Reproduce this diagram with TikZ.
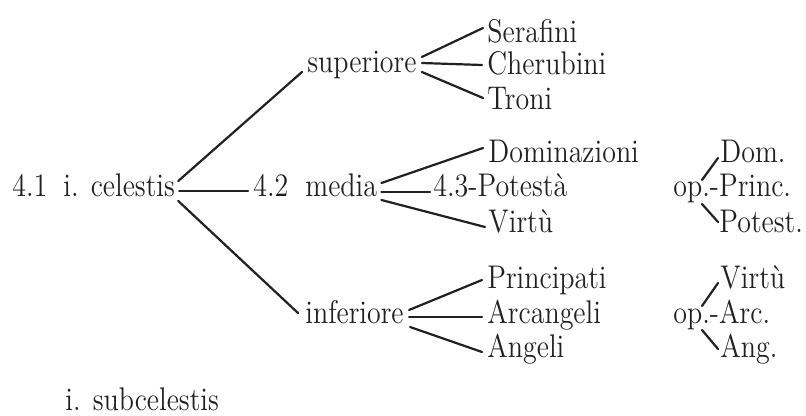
\documentclass[tikz,border=0pt]{standalone}
\usetikzlibrary{calc}
\definecolor{ink}{RGB}{34,32,32}
\newcommand{\stx}[1]{\scalebox{1}[1.17]{#1}}
\begin{document}
\begin{tikzpicture}[x=0.5pt,y=-0.5pt,
  lbl/.style={inner sep=0pt, anchor=base west, text=ink, font=\fontsize{14}{16}\selectfont},
  link/.style={draw=ink, line width=1.1pt, line cap=round}]
\useasboundingbox[fill=white] (0,0) rectangle (806,416);
% first column
\node[lbl] (n41) at (12,197) {\stx{4.1}};
\node[lbl] (cel) at (63,197) {\stx{i. celestis}};
\node[lbl] (sub) at (65,410) {\stx{i. subcelestis}};
% second column
\node[lbl] (sup) at (307,73) {\stx{superiore}};
\node[lbl] (n42) at (253,197) {\stx{4.2}};
\node[lbl] (med) at (305,197) {\stx{media}};
\node[lbl] (inf) at (305,323) {\stx{inferiore}};
% third column
\node[lbl] (ser) at (487,43) {\stx{Serafini}};
\node[lbl] (che) at (487,75) {\stx{Cherubini}};
\node[lbl] (tro) at (487,110) {\stx{Troni}};
\node[lbl] (dom) at (488,163) {\stx{Dominazioni}};
\node[lbl] (pot) at (433,197) {\stx{4.3-Potestà}};
\node[lbl] (vir) at (488,233) {\stx{Virtù}};
\node[lbl] (pri) at (487,288) {\stx{Principati}};
\node[lbl] (arc) at (487,323) {\stx{Arcangeli}};
\node[lbl] (ang) at (487,357) {\stx{Angeli}};
% fourth column
\node[lbl] (opa) at (673,197) {\stx{op.-Princ.}};
\node[lbl] (doma) at (720,163) {\stx{Dom.}};
\node[lbl] (pota) at (719,233) {\stx{Potest.}};
\node[lbl] (opb) at (673,323) {\stx{op.-Arc.}};
\node[lbl] (virb) at (720,288) {\stx{Virtù}};
\node[lbl] (angb) at (720,357) {\stx{Ang.}};
% connectors: celestis
\draw[link] ($(cel.base east)+(3,-16)$) -- ($(sup.base west)+(-5,-1)$);
\draw[link] ($(cel.base east)+(4,-6)$) -- ($(n42.base west)+(-5,-6)$);
\draw[link] ($(cel.base east)+(3,4)$) -- ($(inf.base west)+(-7,-10)$);
% superiore
\draw[link] ($(sup.base east)+(5,-16)$) -- ($(ser.base west)+(-4,-15)$);
\draw[link] ($(sup.base east)+(5,-10)$) -- ($(che.base west)+(-5,-10)$);
\draw[link] ($(sup.base east)+(5,-1)$) -- ($(tro.base west)+(-4,-12)$);
% media
\draw[link] ($(med.base east)+(4,-14)$) -- ($(dom.base west)+(-5,-15)$);
\draw[link] ($(med.base east)+(4,-5)$) -- ($(pot.base west)+(-3,-5)$);
\draw[link] ($(med.base east)+(4,3)$) -- ($(vir.base west)+(-3,-6)$);
% inferiore
\draw[link] ($(inf.base east)+(5,-13)$) -- ($(pri.base west)+(-5,-8)$);
\draw[link] ($(inf.base east)+(5,-6)$) -- ($(arc.base west)+(-5,-6)$);
\draw[link] ($(inf.base east)+(6,4)$) -- ($(ang.base west)+(-5,-5)$);
% op. fans
\draw[link] ($(opa.base west)+(29,-17)$) -- ($(doma.base west)+(-2,-5)$);
\draw[link] ($(opa.base west)+(29,7)$) -- ($(pota.base west)+(-1,-11)$);
\draw[link] ($(opb.base west)+(29,-17)$) -- ($(virb.base west)+(-2,-5)$);
\draw[link] ($(opb.base west)+(29,7)$) -- ($(angb.base west)+(-2,-8)$);
\end{tikzpicture}
\end{document}
